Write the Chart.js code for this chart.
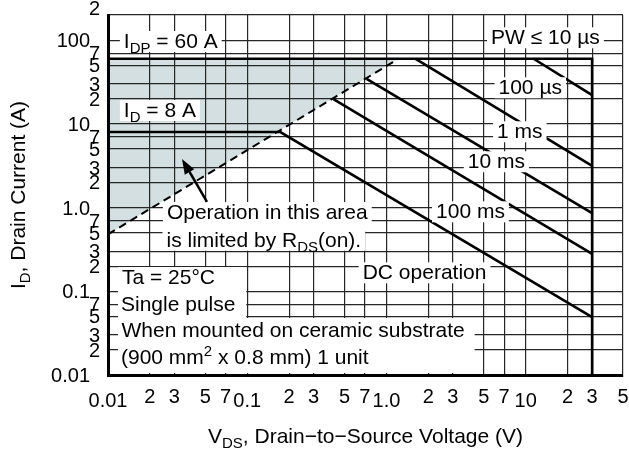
<!DOCTYPE html>
<html lang="en">
<head>
<meta charset="UTF-8">
<title>Safe Operating Area</title>
<script src="https://cdn.jsdelivr.net/npm/chart.js"></script>
<style>
  html, body { margin: 0; padding: 0; background: #fff; }
  #wrap { width: 629px; height: 452px; }
</style>
</head>
<body>
<div id="wrap"><canvas id="soa"></canvas></div>
<script>
// grid lines and their labels
const xTickVals = [0.01, 0.02, 0.03, 0.05, 0.07, 0.1, 0.2, 0.3, 0.5, 0.7, 1, 2, 3, 5, 7, 10, 20, 30, 50];
const xTickLabels = ["0.01", "2", "3", "5", "7", "0.1", "2", "3", "5", "7", "1.0", "2", "3", "5", "7", "10", "2", "3", "5"];
const yTickVals = [0.01, 0.02, 0.03, 0.05, 0.07, 0.1, 0.2, 0.3, 0.5, 0.7, 1, 2, 3, 5, 7, 10, 20, 30, 50, 70, 100, 200];
const yTickLabels = ["0.01", "2", "3", "5", "7", "0.1", "2", "3", "5", "7", "1.0", "2", "3", "5", "7", "10", "2", "3", "5", "7", "100", "2"];

// curves as [VDS (V), ID (A)]
const pulseMax = [[0.01, 60], [30, 60], [30, 0.01]];   // IDP = 60 A, PW <= 10 us, up to 30 V
const pw100us = [[11.4, 60], [30, 22.1]];
const pw1ms = [[1.62, 60], [30, 3.15]];
const pw10ms = [[0.72, 34.4], [30, 0.86]];
const pw100ms = [[0.416, 19.8], [30, 0.28]];
const dcOp = [[0.01, 8], [0.173, 8], [30, 0.049]];   // ID = 8 A then DC operation
const rdsOn = [[0.01, 0.48], [1.22, 60]];           // limited by RDS(on)

const FONT = '"Liberation Sans", Arial, Helvetica, sans-serif';

// annotation texts, anchored at (V, A) = left end of the baseline
const notes = [
  { text: "I_{DP} = 60 A", v: 0.013, a: 80.7, box: true },
  { text: "I_{D} = 8 A", v: 0.013, a: 12.1, box: true },
  { text: "PW \u2264 10 \u00b5s", v: 5.64, a: 89.3, box: true },
  { text: "100 \u00b5s", v: 6.38, a: 22.6, box: true },
  { text: "1 ms", v: 6.23, a: 6.73, box: true },
  { text: "10 ms", v: 3.84, a: 2.95, box: true },
  { text: "100 ms", v: 2.27, a: 0.745, box: true },
  { text: "Operation in this area", v: 0.0265, a: 0.731, box: true, ext: 8 },
  { text: "is limited by R_{DS}(on).", v: 0.0263, a: 0.341, box: true },
  { text: "DC operation", v: 0.675, a: 0.139, box: true },
  { text: "Ta = 25\u00b0C", v: 0.0126, a: 0.122 },
  { text: "Single pulse", v: 0.0124, a: 0.0586 },
  { text: "When mounted on ceramic substrate", v: 0.0125, a: 0.0282 },
  { text: "(900 mm^{2} x 0.8 mm) 1 unit", v: 0.0124, a: 0.01353 }
];

function parseRich(str) {
  return str.split(/(_\{[^}]*\}|\^\{[^}]*\})/).filter(s => s).map(s => {
    if (s[0] === "_") return { t: s.slice(2, -1), sub: true };
    if (s[0] === "^") return { t: s.slice(2, -1), sup: true };
    return { t: s };
  });
}

function richWidth(ctx, parts, size) {
  let w = 0;
  parts.forEach(p => {
    ctx.font = (p.sub || p.sup ? Math.round(size * 0.72) : size) + "px " + FONT;
    w += ctx.measureText(p.t).width;
  });
  return w;
}

function drawRich(ctx, parts, x, y, size) {
  parts.forEach(p => {
    const fs = p.sub || p.sup ? Math.round(size * 0.72) : size;
    ctx.font = fs + "px " + FONT;
    const dy = p.sub ? size * 0.25 : (p.sup ? -size * 0.38 : 0);
    ctx.fillText(p.t, x, y + dy);
    x += ctx.measureText(p.t).width;
  });
}

const annotate = {
  id: "annotate",
  afterDraw(chart) {
    const { ctx, scales: { x: xs, y: ys } } = chart;
    ctx.save();
    ctx.textAlign = "left";
    ctx.textBaseline = "alphabetic";

    // white background behind the conditions block
    ctx.fillStyle = "#fff";
    const left = xs.getPixelForValue(0.0118);
    const midTop = ys.getPixelForValue(0.2) + 1;
    const midBot = ys.getPixelForValue(0.05) + 1.5;
    ctx.fillRect(left, midTop, xs.getPixelForValue(0.1) - 1 - left, midBot - midTop);
    ctx.fillRect(left, midBot, xs.getPixelForValue(4.3) - left, ys.bottom - 2 - midBot);

    const size = 21;
    notes.forEach(n => {
      const parts = parseRich(n.text);
      const x = xs.getPixelForValue(n.v);
      const y = ys.getPixelForValue(n.a);
      if (n.box) {
        const w = richWidth(ctx, parts, size);
        ctx.fillStyle = "#fff";
        ctx.fillRect(x - 4, y - 17, w + 8, 21 + (n.ext || 0));
      }
      ctx.fillStyle = "#000";
      drawRich(ctx, parts, x, y, size);
    });

    // arrow into the shaded area
    const tx = xs.getPixelForValue(0.034), ty = ys.getPixelForValue(3.81);
    const sx = xs.getPixelForValue(0.0514), sy = ys.getPixelForValue(1.17);
    const ang = Math.atan2(ty - sy, tx - sx);
    const hl = 15, hw = 5.5;
    const bx = tx - hl * Math.cos(ang), by = ty - hl * Math.sin(ang);
    ctx.strokeStyle = "#000";
    ctx.lineWidth = 2.5;
    ctx.beginPath();
    ctx.moveTo(sx, sy);
    ctx.lineTo(bx, by);
    ctx.stroke();
    ctx.beginPath();
    ctx.moveTo(tx, ty);
    ctx.lineTo(bx + hw * Math.sin(ang), by - hw * Math.cos(ang));
    ctx.lineTo(bx - hw * Math.sin(ang), by + hw * Math.cos(ang));
    ctx.closePath();
    ctx.fillStyle = "#000";
    ctx.fill();

    // tick labels
    ctx.font = "20px " + FONT;
    ctx.textAlign = "center";
    xTickVals.forEach((v, i) => {
      const major = xTickLabels[i].length > 1;
      ctx.fillText(xTickLabels[i], xs.getPixelForValue(v), ys.bottom + (major ? 32 : 28));
    });
    ctx.textAlign = "right";
    yTickVals.forEach((v, i) => {
      const major = yTickLabels[i].length > 1;
      const py = ys.getPixelForValue(v);
      ctx.fillText(yTickLabels[i], xs.left - (major ? 18 : 8), v === ys.max ? py : py + 7);
    });

    // axis titles
    ctx.textAlign = "left";
    const xt = parseRich("V_{DS}, Drain\u2212to\u2212Source Voltage (V)");
    drawRich(ctx, xt, (xs.left + xs.right) / 2 - richWidth(ctx, xt, size) / 2, 443, size);
    const yt = parseRich("I_{D}, Drain Current (A)");
    ctx.translate(25, (ys.top + ys.bottom) / 2);
    ctx.rotate(-Math.PI / 2);
    drawRich(ctx, yt, -richWidth(ctx, yt, size) / 2, 0, size);
    ctx.restore();
  }
};

function curve(points, extra) {
  return Object.assign({
    data: points.map(([x, y]) => ({ x, y })),
    borderColor: "#000",
    borderWidth: 2.6,
    pointRadius: 0,
    fill: false,
    tension: 0
  }, extra);
}

const gridOpts = { color: "#262626", lineWidth: 1.2, drawTicks: false };

new Chart(document.getElementById("soa"), {
  type: "line",
  data: {
    datasets: [
      curve(rdsOn, { borderWidth: 2, borderDash: [8, 5], fill: { value: 60 }, backgroundColor: "#d3dfe0" }),
      curve(pulseMax),
      curve(pw100us),
      curve(pw1ms),
      curve(pw10ms),
      curve(pw100ms),
      curve(dcOp)
    ]
  },
  options: {
    responsive: true,
    maintainAspectRatio: false,
    animation: false,
    layout: { padding: { left: 108, top: 15, right: 6, bottom: 77 } },
    plugins: {
      legend: { display: false },
      tooltip: { enabled: false },
      filler: { drawTime: "beforeDraw" }
    },
    scales: {
      x: {
        type: "logarithmic", min: 0.01, max: 50,
        afterBuildTicks: s => { s.ticks = xTickVals.map(v => ({ value: v })); },
        ticks: { display: false },
        grid: gridOpts,
        border: { color: "#000", width: 3 }
      },
      y: {
        type: "logarithmic", min: 0.01, max: 200,
        afterBuildTicks: s => { s.ticks = yTickVals.map(v => ({ value: v })); },
        ticks: { display: false },
        grid: gridOpts,
        border: { color: "#000", width: 3 }
      }
    }
  },
  plugins: [annotate]
});
</script>
</body>
</html>
